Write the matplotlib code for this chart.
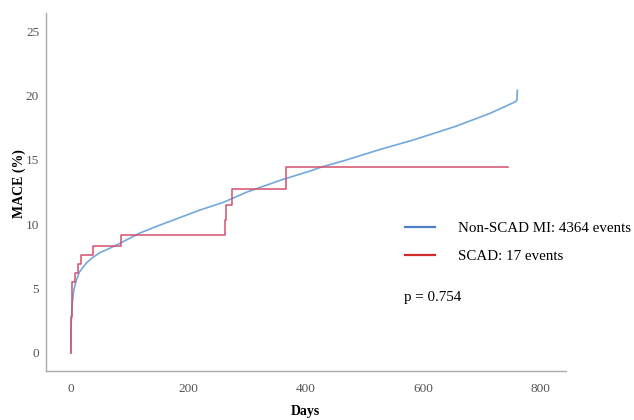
import numpy as np
import matplotlib.pyplot as plt
from matplotlib.lines import Line2D

# Non-SCAD MI cumulative MACE
blue_days = [0, 0.5, 1, 2, 3, 5, 7, 10, 15, 20, 27, 37, 50, 65, 83, 100, 117,
             150, 185, 220, 260, 300, 356, 412, 424, 470, 526, 580, 628, 655,
             684, 713, 742, 756, 759, 760]
blue_mace = [0, 1.5, 2.5, 3.4, 4.0, 4.8, 5.2, 5.7, 6.3, 6.6, 7.0, 7.4, 7.8,
             8.1, 8.5, 8.9, 9.3, 9.9, 10.5, 11.1, 11.7, 12.5, 13.4, 14.2,
             14.4, 15.0, 15.8, 16.5, 17.2, 17.6, 18.1, 18.6, 19.2, 19.5,
             19.6, 20.4]

# SCAD step function (17 events)
red_days = [0, 1, 1, 2, 2, 8, 12, 18, 38, 85, 262, 264, 275, 366, 744]
red_mace = [0, 1.4, 2.8, 4.1, 5.5, 6.2, 6.9, 7.6, 8.3, 9.15, 10.3, 11.5,
            12.7, 14.45, 14.45]

labels = ["Non-SCAD MI: 4364 events", "SCAD: 17 events"]
p_text = "p = 0.754"

plt.rcParams['font.family'] = ['Liberation Serif', 'DejaVu Serif']

fig = plt.figure(figsize=(6.34, 4.2), dpi=100)
ax = fig.add_axes([0.0726, 0.1167, 0.8204, 0.8523])

ax.plot(blue_days, blue_mace, color='#72a8dc', lw=1.2)
ax.plot(red_days, red_mace, color='#d4506c', lw=1.1, drawstyle='steps-post')

ax.set_xlim(-42, 843)
ax.set_ylim(-1.4, 26.4)
ax.set_xticks([0, 200, 400, 600, 800])
ax.set_yticks([0, 5, 10, 15, 20, 25])
ax.tick_params(length=0, labelsize=9.5, labelcolor='#555555')
ax.tick_params(axis='x', pad=9)
ax.tick_params(axis='y', pad=5)
for s in ['top', 'right']:
    ax.spines[s].set_visible(False)
for s in ['left', 'bottom']:
    ax.spines[s].set_color('#aaaaaa')
    ax.spines[s].set_linewidth(1.0)

fig.text(305 / 634, 1 - 411 / 420, "Days", fontweight='bold', fontsize=10,
         ha='center', va='center')
fig.text(19 / 634, 1 - 184 / 420, "MACE (%)", fontweight='bold', fontsize=10,
         ha='center', va='center', rotation=90)

handles = [Line2D([], [], color='#4f7fc6', lw=1.6),
           Line2D([], [], color='#d22b2b', lw=1.6)]
leg = ax.legend(handles, labels, loc='upper left', frameon=False,
                bbox_to_anchor=(400 / 634, 1 - 217 / 420),
                bbox_transform=fig.transFigure, fontsize=10.8,
                handlelength=2.0, handletextpad=1.55, labelspacing=1.0,
                borderaxespad=0, borderpad=0.3)
fig.text(404 / 634, 1 - 297 / 420, p_text, fontsize=10.8, va='center', ha='left')

fig.savefig("out.png", dpi=100)
